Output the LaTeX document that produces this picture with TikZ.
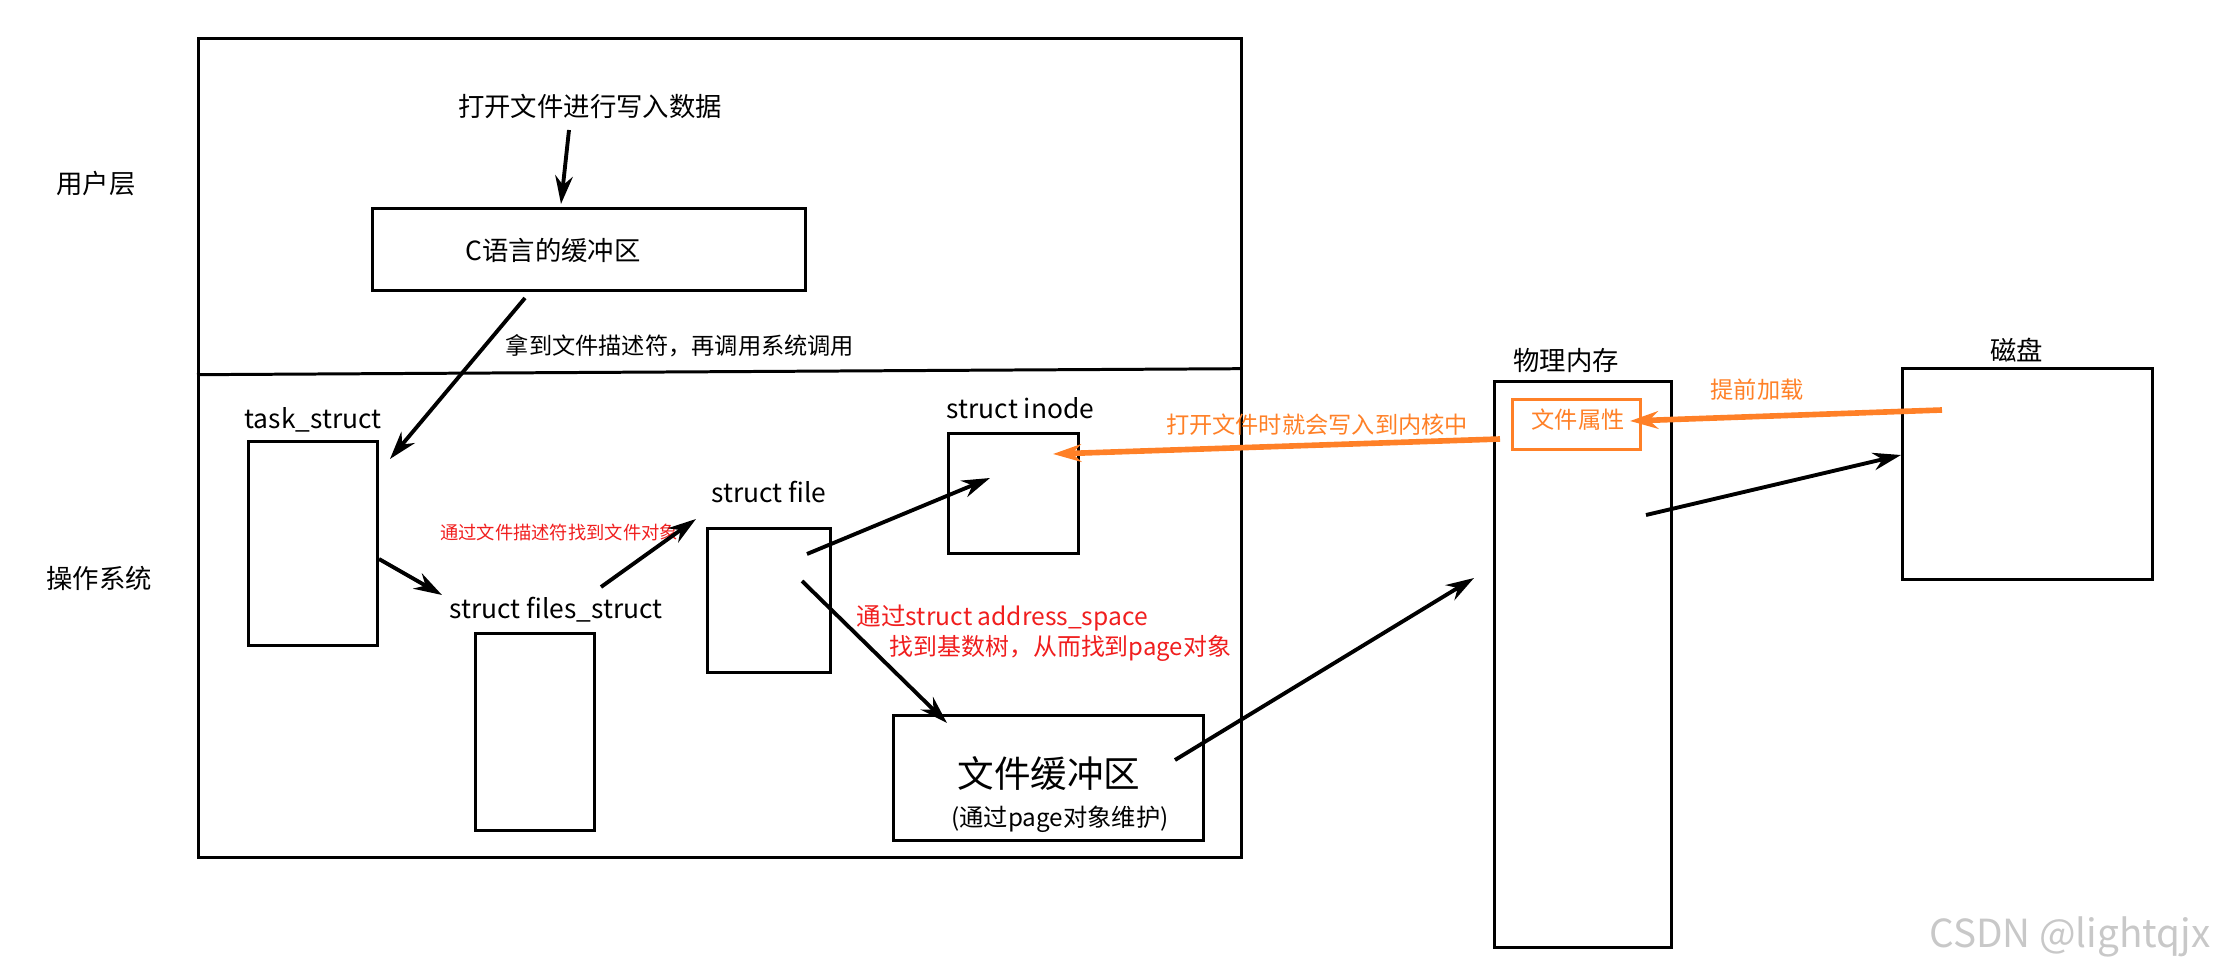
\documentclass[tikz,border=0pt]{standalone}
\usepackage{fontspec}
\setmainfont{Noto Sans CJK SC}
\usetikzlibrary{arrows.meta,positioning}
\definecolor{noteRed}{RGB}{240,30,30}
\definecolor{hintOrange}{RGB}{255,128,39}
\definecolor{markGray}{RGB}{200,200,200}

\begin{document}
\begin{tikzpicture}[x=0.01cm,y=-0.01cm,
                    box/.style={draw,line width=0.85pt,inner sep=0pt,anchor=north west},
                    txt/.style={inner sep=0pt,font=\fontsize{7.5}{9}\selectfont},
                    note/.style={inner sep=0pt,text=noteRed,font=\fontsize{7}{8}\selectfont},
                    hint/.style={inner sep=0pt,text=hintOrange,font=\fontsize{6.6}{8}\selectfont},
                    arrow line/.style={-{Stealth[length=8pt,width=5pt]},line width=1.1pt},
                    hint arrow/.style={arrow line,draw=hintOrange,line width=1.6pt}]
  \useasboundingbox (0,0) rectangle (2223,973);

  % layers
  \node[txt] (user) at (96,184) {用户层};
  \node[txt] (os) at (99,578) {操作系统};
  \node[box,minimum width=10.42cm,minimum height=8.19cm] (outer) at (197,37) {};
  \draw[line width=0.85pt] ([yshift=0.735cm]outer.west) -- ([yshift=0.795cm]outer.east);

  % user space
  \node[txt] (title) at (590,106) {打开文件进行写入数据};
  \node[box,minimum width=4.33cm,minimum height=0.82cm] (cbuf) at (371,207) {};
  \node[txt] (cbuf text) at (553,250) {C语言的缓冲区};
  \node[txt,font=\fontsize{6.6}{8}\selectfont] (fd) at (680,346) {拿到文件描述符，再调用系统调用};

  % kernel objects
  \node[box,minimum width=1.29cm,minimum height=2.04cm] (task) at (247,440) {};
  \node[txt] (task label) [above=2pt of task] {task\_struct};
  \node[box,minimum width=1.19cm,minimum height=1.97cm] (files) at (474,632) {};
  \node[txt] (files label) [above=2.6pt of files,xshift=0.21cm] {struct files\_struct};
  \node[box,minimum width=1.23cm,minimum height=1.44cm] (file) at (706,527) {};
  \node[txt] (file label) [above=6.6pt of file] {struct file};
  \node[box,minimum width=1.30cm,minimum height=1.20cm] (inode) at (947,432) {};
  \node[txt] (inode label) [above=3.4pt of inode,xshift=0.07cm] {struct inode};
  \node[box,minimum width=3.10cm,minimum height=1.25cm] (pagebuf) at (892,714) {};
  \node[txt,font=\fontsize{10.4}{12}\selectfont] (pagebuf text) at (1049,774) {文件缓冲区};
  \node[txt,font=\fontsize{6.9}{8}\selectfont] (pagebuf sub) at (1060,819) {(通过page对象维护)};

  \node[note,font=\fontsize{5.2}{6}\selectfont] (fd note) at (559,532) {通过文件描述符找到文件对象};
  \node[note,anchor=west] (addr note) at (856,618) {通过struct address\_space};
  \node[note,anchor=west,font=\fontsize{6.8}{8}\selectfont] (tree note) at (889,648) {找到基数树，从而找到page对象};

  % memory and disk
  \node[box,minimum width=1.77cm,minimum height=5.66cm] (mem) at (1493,380) {};
  \node[txt] (mem label) [above=2pt of mem,xshift=-0.17cm] {物理内存};
  \node[box,draw=hintOrange,minimum width=1.28cm,minimum height=0.50cm] (attr) at (1511,398) {};
  \node[hint] (attr text) at (1578,420) {文件属性};
  \node[box,minimum width=2.50cm,minimum height=2.11cm] (disk) at (1901,367) {};
  \node[txt] (disk label) [above=1.1pt of disk,xshift=-0.11cm] {磁盘};

  \node[hint] (write hint) at (1317,425) {打开文件时就会写入到内核中};
  \node[hint] (load hint) at (1757,390) {提前加载};

  \node[inner sep=0pt,text=markGray,font=\fontsize{11}{13}\selectfont] (mark) at (2070,937) {CSDN @lightqjx};

  % arrow ends
  \coordinate (a1) at (569,130);
  \coordinate (a2) at (561,204);
  \coordinate (b1) at (525,298);
  \coordinate (b2) at (390,459);
  \coordinate (c1) at (379,559);
  \coordinate (c2) at (442,595);
  \coordinate (d1) at (601,587);
  \coordinate (d2) at (696,519);
  \coordinate (e1) at (807,554);
  \coordinate (e2) at (990,478);
  \coordinate (f1) at (802,581);
  \coordinate (f2) at (947,723);
  \coordinate (g1) at (1175,760);
  \coordinate (g2) at (1474,578);
  \coordinate (h1) at (1500,439);
  \coordinate (h2) at (1053,454);
  \coordinate (i1) at (1942,410);
  \coordinate (i2) at (1630,421);
  \coordinate (j1) at (1646,515);
  \coordinate (j2) at (1901,455);

  \draw[arrow line] (a1) -- (a2);
  \draw[arrow line] (b1) -- (b2);
  \draw[arrow line] (c1) -- (c2);
  \draw[arrow line] (d1) -- (d2);
  \draw[arrow line] (e1) -- (e2);
  \draw[arrow line] (f1) -- (f2);
  \draw[arrow line] (g1) -- (g2);
  \draw[hint arrow] (h1) -- (h2);
  \draw[hint arrow] (i1) -- (i2);
  \draw[arrow line] (j1) -- (j2);
\end{tikzpicture}
\end{document}
